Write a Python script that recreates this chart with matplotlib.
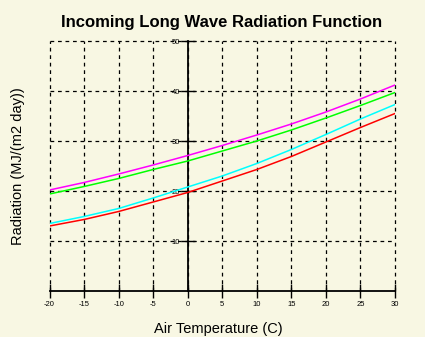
import matplotlib
matplotlib.use("Agg")
import matplotlib.pyplot as plt

# air temperature (C)
temps = [-20, -15, -10, -5, 0, 5, 10, 15, 20, 25, 30]

# incoming long wave radiation, MJ/(m2 day), one list per curve
rad_magenta = [20.2, 21.7, 23.4, 25.2, 27.1, 29.1, 31.2, 33.4, 35.8, 38.4, 41.2]
rad_green = [19.4, 20.9, 22.5, 24.3, 26.0, 28.0, 30.0, 32.2, 34.6, 37.1, 39.7]
rad_cyan = [13.5, 14.9, 16.5, 18.6, 20.8, 23.0, 25.5, 28.3, 31.3, 34.4, 37.3]
rad_red = [13.0, 14.3, 15.9, 17.8, 19.7, 22.0, 24.3, 26.9, 29.8, 32.7, 35.5]

xticks = [-20, -15, -10, -5, 0, 5, 10, 15, 20, 25, 30]
yticks = [10, 20, 30, 40, 50]

bg = '#f8f7e3'
plt.rcParams['font.family'] = ['Liberation Sans', 'DejaVu Sans']
plt.rcParams['axes.unicode_minus'] = False

fig = plt.figure(figsize=(4.25, 3.37), dpi=100, facecolor=bg)
ax = fig.add_axes([49.5 / 425, 1 - 291 / 337, 345.5 / 425, 250 / 337])
ax.set_facecolor(bg)

ax.plot(temps, rad_magenta, color='#ff00ff', lw=1.1, zorder=3)
ax.plot(temps, rad_green, color='#00ff00', lw=1.1, zorder=3)
ax.plot(temps, rad_cyan, color='#00ffff', lw=1.1, zorder=3)
ax.plot(temps, rad_red, color='#ff0000', lw=1.1, zorder=3)

ax.set_xlim(-20, 30)
ax.set_ylim(0, 50)
ax.set_xticks(xticks)
ax.set_yticks(yticks)

ax.spines['left'].set_position(('data', 0))
ax.spines['left'].set_linewidth(1.3)
ax.spines['bottom'].set_linewidth(1.3)
ax.spines['right'].set_visible(False)
ax.spines['top'].set_visible(False)

ax.tick_params(axis='x', direction='inout', length=10, width=1, labelsize=5.5, pad=2)
ax.tick_params(axis='y', direction='inout', length=10, width=1, labelsize=5.5, pad=0.5)

ax.grid(True, color='black', linestyle=(0, (3, 3)), linewidth=0.9, zorder=1)
for gl in ax.get_xgridlines() + ax.get_ygridlines():
    gl.set_clip_on(False)

ax.set_xlabel('Air Temperature (C)', fontsize=10.5)
ax.set_ylabel('Radiation (MJ/(m2 day))', fontsize=10.5)
ax.xaxis.set_label_coords(0.49, -0.125)
ax.yaxis.set_label_coords(-0.071, 0.5)

fig.text(222 / 425, 1 - 22 / 337, 'Incoming Long Wave Radiation Function',
         ha='center', va='center', fontsize=12, fontweight='bold')

fig.savefig('out.png', dpi=100, facecolor=bg)
